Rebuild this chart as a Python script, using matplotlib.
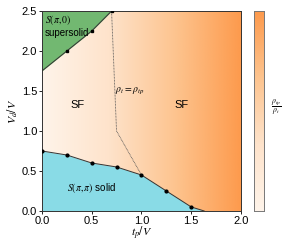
import numpy as np
import matplotlib
matplotlib.use("Agg")
import matplotlib.pyplot as plt
from matplotlib.colors import LinearSegmentedColormap

plt.rcParams['font.family'] = ['Liberation Sans', 'DejaVu Sans']
plt.rcParams['mathtext.fontset'] = 'stix'

# solid boundary (lower)
solid_t = [0.0, 0.25, 0.5, 0.75, 1.0, 1.25, 1.5, 1.63]
solid_v = [0.75, 0.70, 0.60, 0.55, 0.45, 0.25, 0.05, 0.0]
# supersolid boundary (upper)
ss_t = [0.0, 0.25, 0.5, 0.70]
ss_v = [1.75, 2.0, 2.25, 2.5]
# rho_t = rho_tp crossover line
cross_t = [0.70, 0.75, 1.0]
cross_v = [2.5, 1.0, 0.45]

cmap = LinearSegmentedColormap.from_list('bg', ['#fff4ea', '#fee3cb', '#fdc48f', '#fd9a4c'])

fig = plt.figure(figsize=(2.99, 2.40), dpi=100)
ax = fig.add_axes([0.140, 0.121, 0.666, 0.833])
cax = fig.add_axes([0.849, 0.121, 0.033, 0.833])

grad = np.linspace(0, 1, 256).reshape(1, -1)
ax.imshow(grad, extent=[0, 2, 0, 2.5], aspect='auto', cmap=cmap, origin='lower', zorder=0)

ax.fill_between(solid_t, 0, solid_v, color='#89dbe6', zorder=1, lw=0)
ax.fill_between(ss_t, ss_v, 2.5, color='#72b871', zorder=1, lw=0)
ax.plot(solid_t, solid_v, color='#333333', lw=0.7, zorder=2)
ax.plot(solid_t[:-1], solid_v[:-1], 'o', color='black', ms=2, zorder=3)
ax.plot(ss_t, ss_v, color='#333333', lw=0.7, zorder=2)
ax.plot(ss_t[1:], ss_v[1:], 's', color='black', ms=2, zorder=3)
ax.plot(cross_t, cross_v, color='#555555', lw=0.6, ls=(0, (1, 0.8)), zorder=2)

ax.set_xlim(0, 2)
ax.set_ylim(0, 2.5)
ax.set_xticks([0, 0.5, 1.0, 1.5, 2.0])
ax.set_yticks([0, 0.5, 1.0, 1.5, 2.0, 2.5])
ax.tick_params(labelsize=8, length=2.5, width=0.6, pad=1)
for s in ax.spines.values():
    s.set_linewidth(0.7)
    s.set_color('#333333')
ax.set_xlabel(r'$t_p/V$', fontsize=8.5, labelpad=-1)
ax.set_ylabel(r'$V_d/V$', fontsize=8.5, labelpad=1)

ax.text(0.03, 2.39, r'$S(\pi,0)$', fontsize=7, va='center')
ax.text(0.03, 2.22, 'supersolid', fontsize=7, va='center')
ax.text(0.36, 1.32, 'SF', fontsize=8, ha='center', va='center')
ax.text(1.40, 1.32, 'SF', fontsize=8, ha='center', va='center')
ax.text(0.88, 1.50, r'$\rho_t = \rho_{tp}$', fontsize=7, ha='center', va='center')
ax.text(0.50, 0.29, r'$S(\pi,\pi)$ solid', fontsize=7, ha='center', va='center')

cax.imshow(grad.T, extent=[0, 1, 0, 1], aspect='auto', cmap=cmap, origin='lower')
cax.set_xticks([])
cax.set_yticks([])
for s in cax.spines.values():
    s.set_linewidth(0.7)
    s.set_color('#777777')
fig.text(0.905, 0.55, r'$\frac{\rho_{tp}}{\rho_t}$', fontsize=8, ha='left', va='center')

fig.savefig('out.png', dpi=100)
